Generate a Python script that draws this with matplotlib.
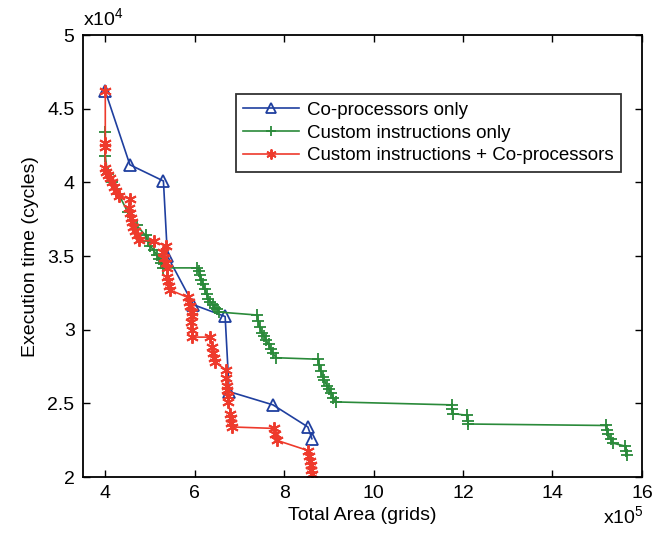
import matplotlib
matplotlib.use("Agg")
import matplotlib.pyplot as plt

plt.rcParams['font.family'] = ['Liberation Sans', 'DejaVu Sans']

# area in units of 1e5 grids, time in units of 1e4 cycles
cop_area = [4.00, 4.55, 5.30, 5.39, 5.97, 6.68, 6.77, 7.75, 8.53, 8.62]
cop_time = [4.62, 4.12, 4.01, 3.50, 3.17, 3.09, 2.58, 2.49, 2.34, 2.26]

ci_area = [4.00, 4.00, 4.05, 4.15, 4.30, 4.50, 4.70, 4.90, 4.95, 5.00, 5.08, 5.15,
           5.20, 5.25, 5.30, 6.06, 6.10, 6.12, 6.15, 6.18, 6.22, 6.27, 6.30, 6.35,
           6.40, 6.45, 6.50, 6.55, 7.39, 7.42, 7.45, 7.50, 7.55, 7.60, 7.65, 7.70,
           7.75, 7.82, 8.75, 8.78, 8.82, 8.86, 8.90, 8.95, 9.00, 9.05, 9.10, 9.15,
           11.75, 11.76, 11.78, 12.08, 12.10, 12.12, 15.19, 15.22, 15.25, 15.30,
           15.35, 15.63, 15.65, 15.66]
ci_time = [4.34, 4.18, 4.06, 4.00, 3.92, 3.80, 3.71, 3.64, 3.60, 3.57, 3.54, 3.51,
           3.48, 3.45, 3.42, 3.42, 3.40, 3.37, 3.34, 3.31, 3.28, 3.24, 3.21, 3.19,
           3.17, 3.15, 3.14, 3.12, 3.10, 3.06, 3.02, 2.98, 2.96, 2.93, 2.90, 2.87,
           2.84, 2.81, 2.80, 2.76, 2.72, 2.68, 2.66, 2.62, 2.60, 2.57, 2.54, 2.51,
           2.49, 2.46, 2.43, 2.42, 2.38, 2.36, 2.35, 2.32, 2.29, 2.26,
           2.23, 2.21, 2.18, 2.15]

both_area = [4.00, 4.00, 4.00, 4.00, 4.02, 4.05, 4.10, 4.15, 4.20, 4.25, 4.30,
             4.55, 4.53, 4.55, 4.58, 4.60, 4.63, 4.66, 4.70, 4.75, 5.08, 5.35,
             5.30, 5.32, 5.35, 5.38, 5.39, 5.40, 5.42, 5.45, 5.84, 5.87, 5.90,
             5.93, 5.95, 5.92, 5.94, 5.95, 6.35, 6.39, 6.41, 6.43, 6.45, 6.69,
             6.70, 6.73, 6.73, 6.74, 6.75, 6.80, 6.81, 6.82, 6.83, 7.78, 7.80,
             7.83, 8.53, 8.55, 8.57, 8.59, 8.61, 8.63]
both_time = [4.62, 4.27, 4.24, 4.10, 4.07, 4.05, 4.03, 4.00, 3.97, 3.94, 3.91,
             3.89, 3.83, 3.79, 3.76, 3.73, 3.70, 3.67, 3.64, 3.61, 3.60, 3.57,
             3.53, 3.49, 3.45, 3.42, 3.36, 3.33, 3.30, 3.27, 3.22, 3.19, 3.16,
             3.12, 3.09, 3.05, 3.00, 2.95, 2.95, 2.88, 2.84, 2.81, 2.78, 2.73,
             2.67, 2.62, 2.59, 2.55, 2.51, 2.43, 2.40, 2.37, 2.34, 2.33, 2.29,
             2.25, 2.18, 2.14, 2.11, 2.08, 2.05, 2.02]

blue = '#1f3f9f'
green = '#2a8a3a'
red = '#ee3a2c'

fig = plt.figure(figsize=(6.53, 5.33), dpi=100)
ax = fig.add_axes([0.127, 0.105, 0.856, 0.829])

ax.plot(cop_area, cop_time, '-^', color=blue, lw=1.2, ms=9, mfc='none',
        mew=1.3, label='Co-processors only')
ax.plot(ci_area, ci_time, '-+', color=green, lw=1.2, ms=9, mew=1.3,
        label='Custom instructions only')
# six-spoke asterisk marker
ax.plot(both_area, both_time, '-', marker=(6, 2, 0), color=red, lw=1.2, ms=9,
        mew=1.4, label='Custom instructions + Co-processors')

ax.set_xlim(3.5, 16)
ax.set_ylim(2, 5)
ax.set_xticks([4, 6, 8, 10, 12, 14, 16])
ax.set_yticks([2, 2.5, 3, 3.5, 4, 4.5, 5])
ax.set_yticklabels(['2', '2.5', '3', '3.5', '4', '4.5', '5'])
ax.tick_params(direction='in', top=True, right=True, labelsize=14, length=5,
               width=1, pad=6)
for s in ax.spines.values():
    s.set_linewidth(1.3)

ax.set_xlabel('Total Area (grids)', fontsize=14, labelpad=3)
ax.set_ylabel('Execution time (cycles)', fontsize=14, labelpad=6)

fig.text(0.127, 0.945, r'x$\mathregular{10^4}$', fontsize=14, ha='left', va='bottom')
fig.text(0.985, 0.012, r'x$\mathregular{10^5}$', fontsize=14, ha='right', va='bottom')

leg = ax.legend(loc='upper right', bbox_to_anchor=(0.951, 0.823),
                bbox_transform=fig.transFigure, fontsize=13.5, frameon=True,
                fancybox=False, edgecolor='black', handlelength=3.0,
                borderpad=0.4, labelspacing=0.3, handletextpad=0.4,
                borderaxespad=0, markerscale=0.8)
leg.get_frame().set_linewidth(1.3)

fig.savefig('out.png', dpi=100)
